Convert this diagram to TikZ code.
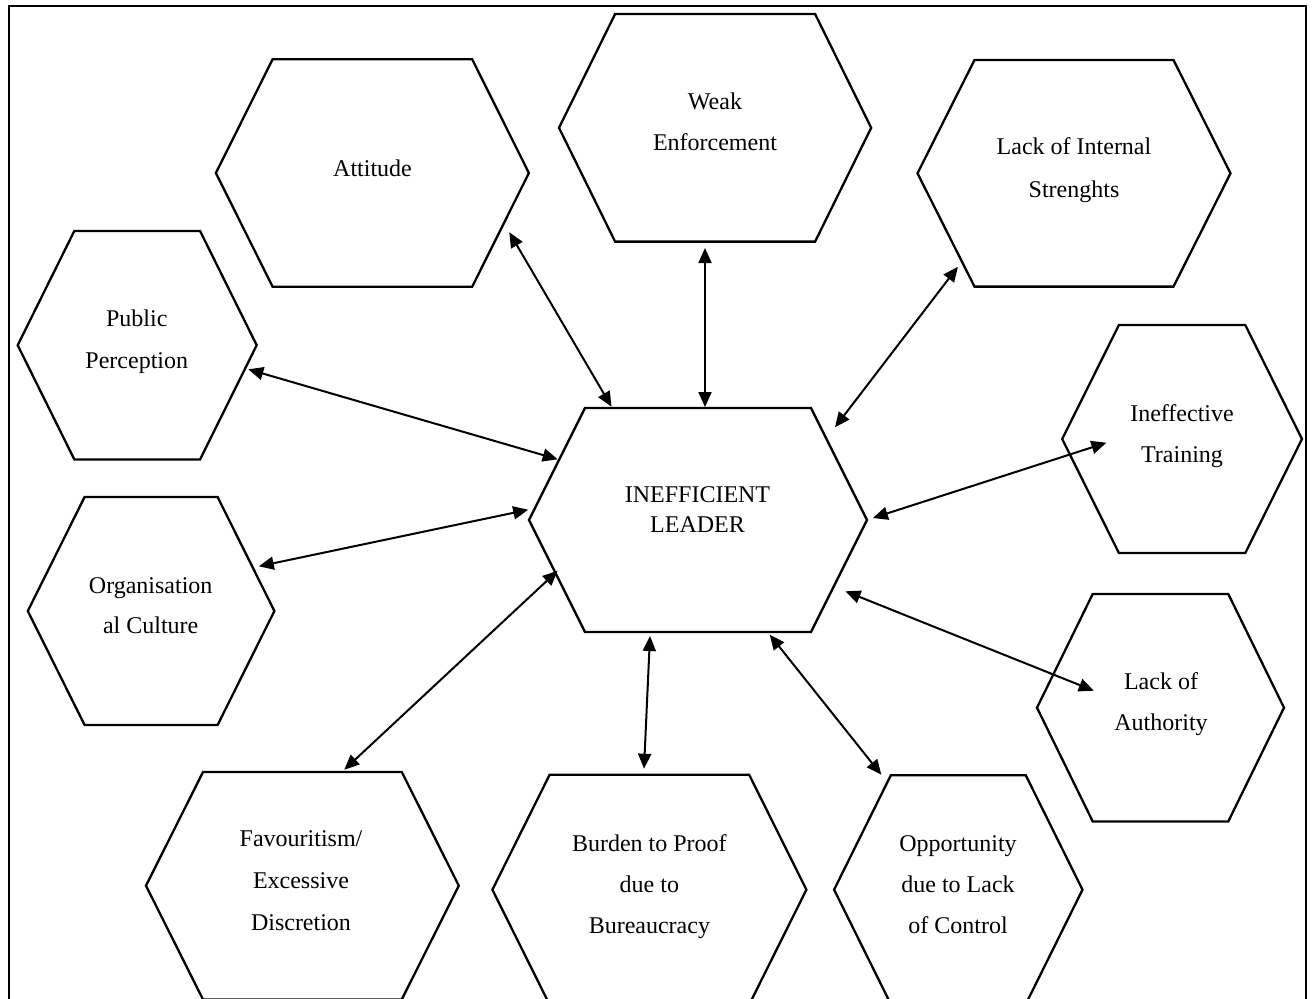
\documentclass[tikz,border=0pt]{standalone}
\usepackage{fontspec}
\setmainfont{Liberation Serif}
\usetikzlibrary{arrows.meta,calc}
\tikzset{
  hexline/.style={draw=black, line width=1.15pt, line join=miter},
  conn/.style={{Triangle[length=7.5pt,width=6.5pt]}-{Triangle[length=7.5pt,width=6.5pt]}, line width=1pt},
  lbl/.style={anchor=base, inner sep=0pt, font=\fontsize{12}{14}\selectfont},
  frameline/.style={line width=1.1pt}
}
% name, cx, cy, half width (to point), half top edge, half height
\newcommand\mkhex[6]{%
  \coordinate (#1) at (#2,#3);
  \draw[hexline] ($(#1)+(-#4,0)$) -- ($(#1)+(-#5,-#6)$) -- ($(#1)+(#5,-#6)$)
    -- ($(#1)+(#4,0)$) -- ($(#1)+(#5,#6)$) -- ($(#1)+(-#5,#6)$) -- cycle;}
\begin{document}
\begin{tikzpicture}[x=0.5pt,y=-0.5pt]
\useasboundingbox (0,0) rectangle (1314,998);
\clip (0,0) rectangle (1314,998);
\fill[white] (0,0) rectangle (1314,998);
\draw[frameline] (9,1010) -- (9,6) -- (1306,6) -- (1306,1010);

% hexagons
\mkhex{cen}{698}{520}{169}{113}{112}
\mkhex{att}{372.4}{173}{156.5}{99.8}{113.7}
\mkhex{weak}{715.1}{127.8}{156.1}{100}{113.8}
\mkhex{lint}{1074}{173.3}{156.5}{99.5}{113.3}
\mkhex{pub}{137.2}{345.2}{119.5}{62.9}{114.2}
\mkhex{train}{1182.1}{439}{119.9}{63.2}{114}
\mkhex{org}{151.1}{611}{123.3}{66.5}{114}
\mkhex{auth}{1160.5}{707.7}{123.5}{67.8}{113.7}
\mkhex{fav}{302.4}{885.7}{156.4}{99.4}{113.7}
\mkhex{bur}{649.4}{889.7}{157}{99.75}{115}
\mkhex{opp}{958.3}{889.7}{124.2}{67.5}{114.4}

% labels
\node[lbl] (cen-1) at (697.5,502.7) {INEFFICIENT};
\node[lbl] (cen-2) at (697.5,532.7) {LEADER};
\node[lbl] (att-1) at (372.5,176) {Attitude};
\node[lbl] (weak-1) at (715,109.7) {Weak};
\node[lbl] (weak-2) at (715,150.7) {Enforcement};
\node[lbl] (lint-1) at (1074,154.7) {Lack of Internal};
\node[lbl] (lint-2) at (1074,197) {Strenghts};
\node[lbl] (pub-1) at (136.8,326.3) {Public};
\node[lbl] (pub-2) at (136.8,368.7) {Perception};
\node[lbl] (train-1) at (1182,421.5) {Ineffective};
\node[lbl] (train-2) at (1182,462.5) {Training};
\node[lbl] (org-1) at (150.7,593.3) {Organisation};
\node[lbl] (org-2) at (150.7,633.7) {al Culture};
\node[lbl] (auth-1) at (1161,689.3) {Lack of};
\node[lbl] (auth-2) at (1161,730) {Authority};
\node[lbl] (fav-1) at (301,846.7) {Favouritism/};
\node[lbl] (fav-2) at (301,888.7) {Excessive};
\node[lbl] (fav-3) at (301,930) {Discretion};
\node[lbl] (bur-1) at (649.4,851) {Burden to Proof};
\node[lbl] (bur-2) at (649.4,892) {due to};
\node[lbl] (bur-3) at (649.4,933.3) {Bureaucracy};
\node[lbl] (opp-1) at (958,851) {Opportunity};
\node[lbl] (opp-2) at (958,892.7) {due to Lack};
\node[lbl] (opp-3) at (958,933.3) {of Control};

% connector ends
\coordinate (att-e) at (509.3,232.3);   \coordinate (cen-att) at (611.5,406.7);
\coordinate (weak-e) at (705,248);      \coordinate (cen-weak) at (705,407);
\coordinate (lint-e) at (957.9,266.7);  \coordinate (cen-lint) at (835,427.3);
\coordinate (pub-e) at (248.3,369.3);   \coordinate (cen-pub) at (557.7,459.3);
\coordinate (train-e) at (1106.4,442.7);\coordinate (cen-train) at (872.9,518);
\coordinate (org-e) at (258.8,566.3);   \coordinate (cen-org) at (528.2,509.7);
\coordinate (fav-e) at (344.3,769.7);   \coordinate (cen-fav) at (557.7,570.7);
\coordinate (bur-e) at (644,768.7);     \coordinate (cen-bur) at (650,636);
\coordinate (opp-e) at (881.3,774.7);   \coordinate (cen-opp) at (769.7,634.7);
\coordinate (auth-e) at (1093.8,690.7); \coordinate (cen-auth) at (845.5,591.3);

\draw[conn] (att-e) -- (cen-att);
\draw[conn] (weak-e) -- (cen-weak);
\draw[conn] (lint-e) -- (cen-lint);
\draw[conn] (pub-e) -- (cen-pub);
\draw[conn] (train-e) -- (cen-train);
\draw[conn] (org-e) -- (cen-org);
\draw[conn] (fav-e) -- (cen-fav);
\draw[conn] (bur-e) -- (cen-bur);
\draw[conn] (opp-e) -- (cen-opp);
\draw[conn] (auth-e) -- (cen-auth);
\end{tikzpicture}
\end{document}
